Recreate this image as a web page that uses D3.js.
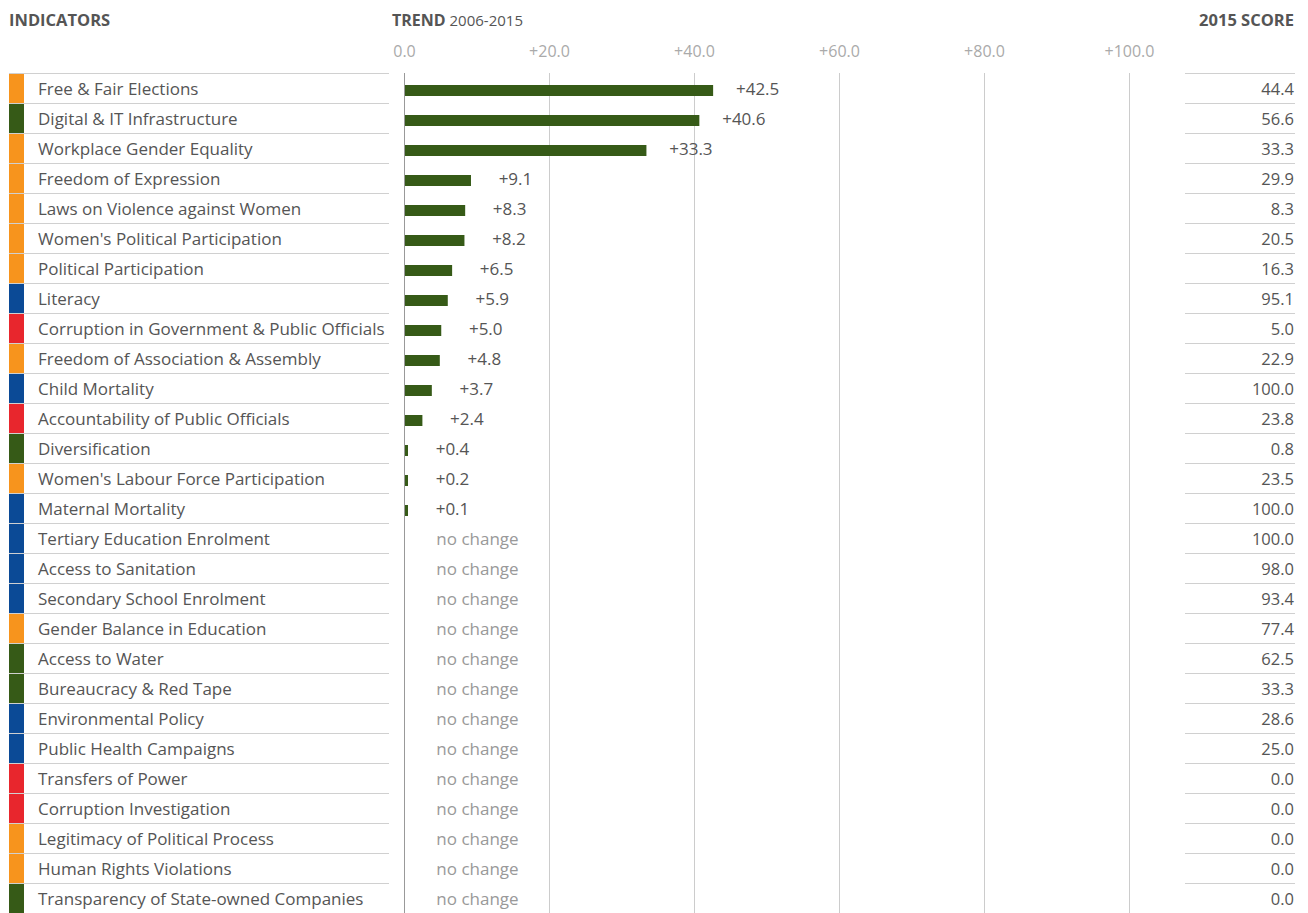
<!DOCTYPE html>
<html lang="en">
<head>
    <meta charset="UTF-8">
    <title>Indicators trend 2006-2015</title>
    <style>
        body {
            margin: 0;
            background-color: #ffffff;
            font-family: "Open Sans", "Noto Sans", sans-serif;
        }
    </style>
</head>
<body>
    <div id="container"></div>

    <script src="https://d3js.org/d3.v7.min.js"></script>
    <script>
        // Indicator names, top to bottom
        const indicators = [
            "Free & Fair Elections", "Digital & IT Infrastructure", "Workplace Gender Equality",
            "Freedom of Expression", "Laws on Violence against Women", "Women's Political Participation",
            "Political Participation", "Literacy", "Corruption in Government & Public Officials",
            "Freedom of Association & Assembly", "Child Mortality", "Accountability of Public Officials",
            "Diversification", "Women's Labour Force Participation", "Maternal Mortality",
            "Tertiary Education Enrolment", "Access to Sanitation", "Secondary School Enrolment",
            "Gender Balance in Education", "Access to Water", "Bureaucracy & Red Tape",
            "Environmental Policy", "Public Health Campaigns", "Transfers of Power",
            "Corruption Investigation", "Legitimacy of Political Process", "Human Rights Violations",
            "Transparency of State-owned Companies"
        ];

        // category of each indicator (drives the colour tag)
        const categories = [
            "gov", "econ", "gender", "gov", "gender", "gender",
            "gov", "social", "corr", "gov", "social", "corr",
            "econ", "gender", "social", "social", "social", "social",
            "gender", "econ", "econ", "social", "social", "corr",
            "corr", "gov", "gov", "econ"
        ];

        // change 2006-2015 (null = no change)
        const trend = [
            42.5, 40.6, 33.3, 9.1, 8.3, 8.2, 6.5, 5.9, 5.0, 4.8, 3.7, 2.4, 0.4, 0.2, 0.1,
            null, null, null, null, null, null, null, null, null, null, null, null, null
        ];

        // 2015 score
        const score = [
            44.4, 56.6, 33.3, 29.9, 8.3, 20.5, 16.3, 95.1, 5.0, 22.9, 100.0, 23.8, 0.8, 23.5,
            100.0, 100.0, 98.0, 93.4, 77.4, 62.5, 33.3, 28.6, 25.0, 0.0, 0.0, 0.0, 0.0, 0.0
        ];

        const axisTicks = [0, 20, 40, 60, 80, 100];

        const width = 1308;
        const height = 913;
        const rowsTop = 73;
        const rowH = 30;
        const textColor = "#555555";

        const color = d3.scaleOrdinal()
            .domain(["gov", "econ", "gender", "social", "corr"])
            .range(["#f7941d", "#365a17", "#f7941d", "#0b4a96", "#e8262d"]);

        const x = d3.scaleLinear().domain([0, 100]).range([404.5, 1129.5]);
        const y = d3.scaleBand()
            .domain(d3.range(indicators.length))
            .range([rowsTop, rowsTop + rowH * indicators.length]);

        const svg = d3.select("#container")
            .append("svg")
            .attr("width", width)
            .attr("height", height)
            .style("display", "block");

        // headers
        svg.append("text")
            .attr("x", 9).attr("y", 26)
            .attr("fill", textColor)
            .style("font-size", "16.5px").style("font-weight", "700")
            .text("INDICATORS");

        const trendHead = svg.append("text")
            .attr("x", 392).attr("y", 26)
            .attr("fill", textColor)
            .style("font-size", "15px");
        trendHead.append("tspan").style("font-weight", "700").style("font-size", "16px").text("TREND");
        trendHead.append("tspan").text(" 2006-2015");

        svg.append("text")
            .attr("x", 1294).attr("y", 26)
            .attr("text-anchor", "end")
            .attr("fill", textColor)
            .style("font-size", "16.5px").style("font-weight", "700")
            .text("2015 SCORE");

        // grid + tick labels
        const grid = svg.append("g");
        grid.selectAll("line")
            .data(axisTicks)
            .join("line")
            .attr("x1", d => x(d)).attr("x2", d => x(d))
            .attr("y1", rowsTop).attr("y2", height)
            .attr("stroke", d => d === 0 ? "#999999" : "#cccccc")
            .attr("stroke-width", 1);

        grid.selectAll("text")
            .data(axisTicks)
            .join("text")
            .attr("x", d => x(d))
            .attr("y", 57)
            .attr("text-anchor", "middle")
            .attr("fill", "#aaaaaa")
            .style("font-size", "16px")
            .text(d => d === 0 ? "0.0" : "+" + d.toFixed(1));

        // rows
        const rows = svg.append("g")
            .selectAll("g")
            .data(indicators)
            .join("g")
            .attr("transform", (d, i) => `translate(0,${y(i)})`);

        rows.append("rect")
            .attr("x", 9).attr("y", 0)
            .attr("width", 15).attr("height", rowH)
            .attr("fill", (d, i) => color(categories[i]));

        rows.append("line")
            .attr("x1", 9).attr("x2", 389)
            .attr("y1", 0.5).attr("y2", 0.5)
            .attr("stroke", "#d0d0d0");

        rows.append("line")
            .attr("x1", 1185).attr("x2", 1295)
            .attr("y1", 0.5).attr("y2", 0.5)
            .attr("stroke", "#d0d0d0");

        rows.append("text")
            .attr("x", 38).attr("y", 22)
            .attr("fill", textColor)
            .style("font-size", "17px")
            .text(d => d);

        rows.append("text")
            .attr("x", 1294).attr("y", 22)
            .attr("text-anchor", "end")
            .attr("fill", textColor)
            .style("font-size", "16.5px")
            .text((d, i) => score[i].toFixed(1));

        // trend bars
        rows.filter((d, i) => trend[i] !== null)
            .append("rect")
            .attr("x", x(0) + 0.5)
            .attr("y", 12)
            .attr("height", 11)
            .attr("width", (d, i) => Math.max(3, x(trend[i]) - x(0)))
            .attr("fill", "#365a17");

        rows.append("text")
            .attr("x", (d, i) => trend[i] === null ? x(0) + 73 : Math.max(x(0) + 3, x(trend[i])) + 45)
            .attr("y", 22)
            .attr("text-anchor", "middle")
            .attr("fill", (d, i) => trend[i] === null ? "#999999" : textColor)
            .style("font-size", "17px")
            .text((d, i) => trend[i] === null ? "no change" : "+" + trend[i].toFixed(1));
    </script>
</body>
</html>
